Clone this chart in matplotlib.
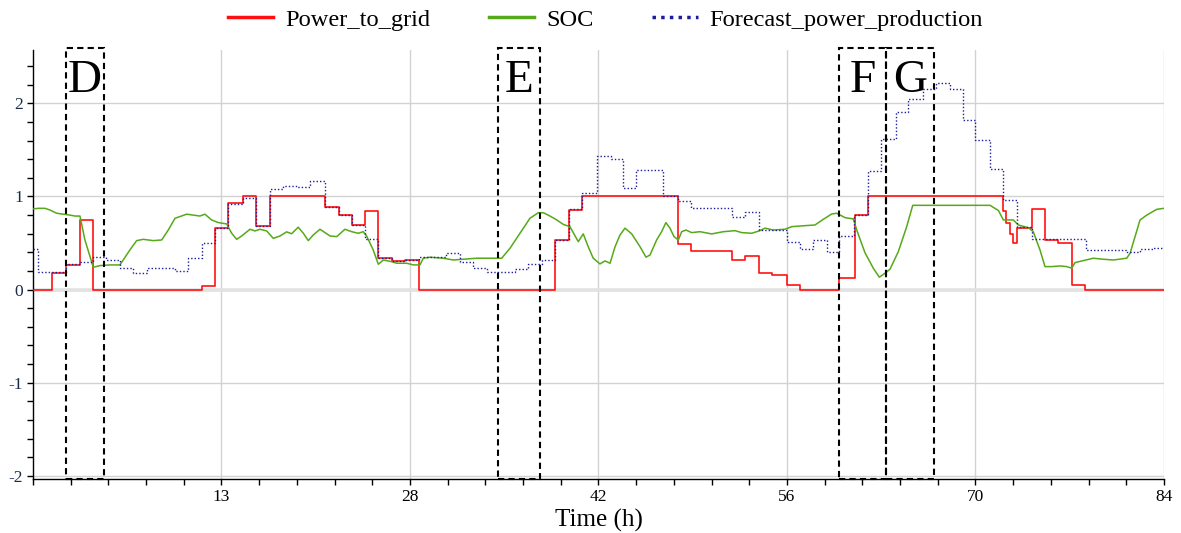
import matplotlib
matplotlib.use("Agg")
import matplotlib.pyplot as plt
from matplotlib.patches import Rectangle
from matplotlib.ticker import MultipleLocator, FixedLocator

plt.rcParams['font.family'] = ['Liberation Serif', 'DejaVu Serif']
plt.rcParams['axes.unicode_minus'] = False

# Power delivered to the grid (step changes: start time, level)
grid_t = [0.0, 1.43, 2.43, 3.49, 4.48, 12.53, 13.52, 14.5, 15.6, 16.6, 17.6, 21.7,
          22.7, 23.67, 24.66, 25.6, 26.64, 27.63, 28.7, 38.8, 39.8, 40.8, 47.9, 48.9,
          51.9, 52.9, 53.9, 54.86, 55.98, 57.0, 59.9, 61.05, 62.0, 72.07, 72.3, 72.55,
          72.8, 73.1, 74.17, 75.16, 76.15, 77.15, 78.15, 84.0]
grid_v = [0.0, 0.176, 0.265, 0.748, 0.0, 0.04, 0.66, 0.927, 1.0, 0.687, 1.0, 0.89,
          0.80, 0.69, 0.845, 0.343, 0.308, 0.32, 0.0, 0.53, 0.86, 1.0, 0.487, 0.415,
          0.32, 0.36, 0.18, 0.158, 0.05, 0.0, 0.12, 0.80, 1.0, 0.84, 0.72, 0.60,
          0.50, 0.665, 0.87, 0.53, 0.50, 0.05, 0.0, 0.0]

# Battery state of charge
soc_t = [0.0, 0.39, 0.89, 1.26, 1.76, 2.25, 2.75, 3.12, 3.49, 3.86, 4.48, 4.98, 5.72,
         6.46, 7.20, 7.70, 8.19, 8.94, 9.56, 10.05, 10.55, 11.42, 11.91, 12.40, 12.77,
         13.27, 13.76, 14.39, 14.76, 15.13, 15.50, 16.12, 16.49, 16.86, 17.36, 17.85,
         18.35, 18.84, 19.21, 19.70, 20.08, 20.45, 20.82, 21.32, 21.69, 22.06, 22.56,
         23.17, 23.67, 24.16, 24.53, 24.78, 25.27, 25.65, 26.02, 26.64, 27.01, 27.76,
         28.25, 28.74, 28.99, 29.49, 30.47, 31.22, 31.96, 32.95, 33.94, 34.81, 35.43,
         36.17, 36.91, 37.53, 37.90, 38.40, 38.90, 39.39, 39.88, 40.50, 40.87, 41.24,
         41.61, 42.11, 42.48, 42.86, 43.23, 43.60, 43.97, 44.47, 45.09, 45.53, 45.83,
         46.32, 46.69, 47.01, 47.31, 47.61, 47.93, 48.18, 48.50, 48.92, 49.54, 50.41,
         51.27, 52.14, 52.64, 53.38, 53.99, 54.37, 54.98, 55.85, 56.35, 56.97, 58.08,
         58.70, 59.32, 59.69, 60.31, 60.93, 61.18, 61.79, 62.41, 62.86, 63.28, 63.65,
         64.27, 64.89, 65.34, 66.12, 71.08, 71.70, 72.07, 72.81, 73.18, 73.92, 74.29,
         74.79, 75.16, 75.66, 76.28, 76.77, 77.15, 77.39, 78.01, 78.75, 79.50, 80.24,
         81.23, 81.48, 82.22, 82.72, 83.46, 84.0]
soc_v = [0.866, 0.873, 0.873, 0.855, 0.82, 0.81, 0.80, 0.79, 0.79, 0.533, 0.24, 0.258,
         0.265, 0.265, 0.426, 0.526, 0.54, 0.526, 0.533, 0.64, 0.766, 0.81, 0.80, 0.79,
         0.81, 0.748, 0.72, 0.705, 0.605, 0.54, 0.576, 0.648, 0.63, 0.648, 0.63, 0.55,
         0.576, 0.62, 0.60, 0.67, 0.605, 0.526, 0.587, 0.648, 0.612, 0.576, 0.569,
         0.648, 0.622, 0.605, 0.622, 0.576, 0.426, 0.272, 0.318, 0.30, 0.283, 0.283,
         0.265, 0.265, 0.337, 0.348, 0.337, 0.318, 0.326, 0.337, 0.337, 0.337, 0.444,
         0.605, 0.766, 0.826, 0.826, 0.79, 0.748, 0.70, 0.676, 0.515, 0.598, 0.46,
         0.337, 0.276, 0.308, 0.283, 0.46, 0.587, 0.66, 0.598, 0.46, 0.348, 0.372,
         0.533, 0.622, 0.72, 0.66, 0.569, 0.533, 0.622, 0.64, 0.612, 0.622, 0.598,
         0.622, 0.633, 0.612, 0.605, 0.633, 0.66, 0.64, 0.648, 0.676, 0.683, 0.694,
         0.755, 0.812, 0.82, 0.773, 0.759, 0.64, 0.397, 0.23, 0.133, 0.176, 0.219,
         0.408, 0.676, 0.905, 0.905, 0.905, 0.85, 0.748, 0.748, 0.694, 0.665, 0.622,
         0.426, 0.247, 0.247, 0.254, 0.247, 0.23, 0.29, 0.311, 0.337, 0.326, 0.318,
         0.337, 0.39, 0.748, 0.80, 0.862, 0.873]

# Forecast production (step changes: start time, level)
fc_t = [0.0, 0.4, 2.43, 3.5, 4.45, 5.4, 6.45, 7.45, 8.47, 10.55, 11.52, 12.56, 13.52,
        14.5, 15.6, 16.6, 17.6, 18.6, 19.6, 20.57, 21.7, 22.7, 23.67, 24.66, 25.65,
        26.64, 27.63, 28.7, 30.7, 31.7, 32.7, 33.7, 34.7, 35.8, 36.8, 37.8, 38.8, 39.8,
        40.8, 41.9, 42.9, 43.8, 44.8, 46.8, 47.9, 48.9, 51.9, 52.9, 53.9, 56.0, 57.0,
        57.96, 58.95, 59.9, 61.0, 62.0, 63.0, 64.1, 65.0, 66.1, 67.1, 68.1, 69.1, 70.0,
        71.08, 72.07, 73.06, 74.17, 78.2, 80.2, 81.2, 82.2, 83.2, 84.0]
fc_v = [0.44, 0.187, 0.27, 0.30, 0.355, 0.32, 0.23, 0.18, 0.23, 0.20, 0.34, 0.50, 0.665,
        0.915, 0.98, 0.687, 1.077, 1.116, 1.105, 1.17, 0.89, 0.80, 0.694, 0.54, 0.337,
        0.308, 0.32, 0.354, 0.39, 0.30, 0.236, 0.193, 0.187, 0.22, 0.27, 0.32, 0.53,
        0.865, 1.04, 1.435, 1.40, 1.094, 1.284, 1.0, 0.95, 0.88, 0.78, 0.83, 0.64,
        0.515, 0.437, 0.533, 0.40, 0.58, 0.80, 1.27, 1.62, 1.91, 2.05, 2.15, 2.215,
        2.15, 1.82, 1.61, 1.30, 0.963, 0.676, 0.54, 0.43, 0.426, 0.40, 0.437, 0.45, 0.45]

# Highlighted intervals (label, start, end)
zone_labels = ["D", "E", "F", "G"]
zone_start = [2.43, 34.57, 59.83, 63.37]
zone_end = [5.30, 37.69, 63.37, 66.92]

x_ticks = [14, 28, 42, 56, 70, 84]
x_ticklabels = ["13", "28", "42", "56", "70", "84"]
y_ticks = [-2, -1, 0, 1, 2]

fig = plt.figure(figsize=(11.81, 5.33), dpi=100)
ax = fig.add_axes([0.0279, 0.1013, 0.9577, 0.8047])

ymin, ymax = -2.034, 2.572
ax.set_xlim(0, 84)
ax.set_ylim(ymin, ymax)

# grid
for xv in x_ticks:
    ax.axvline(xv, color='#d2d2d2', lw=1.0, zorder=0)
for yv in y_ticks:
    ax.axhline(yv, color='#d2d2d2', lw=1.0, zorder=0)
ax.axhline(0, color='#e2e2e2', lw=2.6, zorder=0)

l_grid, = ax.step(grid_t, grid_v, where='post', color='#ff1010', lw=1.2,
                  label='Power_to_grid', zorder=3)
l_soc, = ax.plot(soc_t, soc_v, color='#56a918', lw=1.1, label='SOC', zorder=4)
l_fc, = ax.step(fc_t, fc_v, where='post', color='#1c1c9c', lw=1.0, ls=(0, (1, 1.5)),
                label='Forecast_power_production', zorder=5)

# highlighted intervals
for lab, a, b in zip(zone_labels, zone_start, zone_end):
    rect = Rectangle((a, ymin), b - a, 2.595 - ymin, fill=False, edgecolor='black',
                     lw=1.5, ls=(0, (3, 2)), clip_on=False, zorder=6)
    ax.add_patch(rect)
    ax.text((a + b) / 2, 2.12, lab, ha='center', va='baseline', fontsize=34,
            color='black', zorder=7)

ax.spines['top'].set_visible(False)
ax.spines['right'].set_visible(False)
ax.spines['left'].set_linewidth(1.0)
ax.spines['bottom'].set_linewidth(1.0)

ax.xaxis.set_major_locator(FixedLocator(x_ticks))
ax.set_xticklabels(x_ticklabels)
ax.xaxis.set_minor_locator(MultipleLocator(2.8))
ax.yaxis.set_major_locator(FixedLocator(y_ticks))
ax.yaxis.set_minor_locator(MultipleLocator(0.2))
ax.tick_params(axis='both', which='major', length=4, width=1.0, labelsize=12.5, pad=3)
ax.tick_params(axis='both', which='minor', length=4, width=1.0)
ax.tick_params(axis='y', labelcolor='#1a2a4a')

ax.set_xlabel('Time (h)', fontsize=18, labelpad=3)

leg = fig.legend(handles=[l_grid, l_soc, l_fc], loc='center', bbox_to_anchor=(0.5127, 0.963),
                 ncol=3, frameon=False, fontsize=17.6, handlelength=1.85, handletextpad=0.5,
                 columnspacing=2.4)
for h in leg.get_lines():
    h.set_linewidth(2.5)

fig.savefig('out.png', dpi=100)
